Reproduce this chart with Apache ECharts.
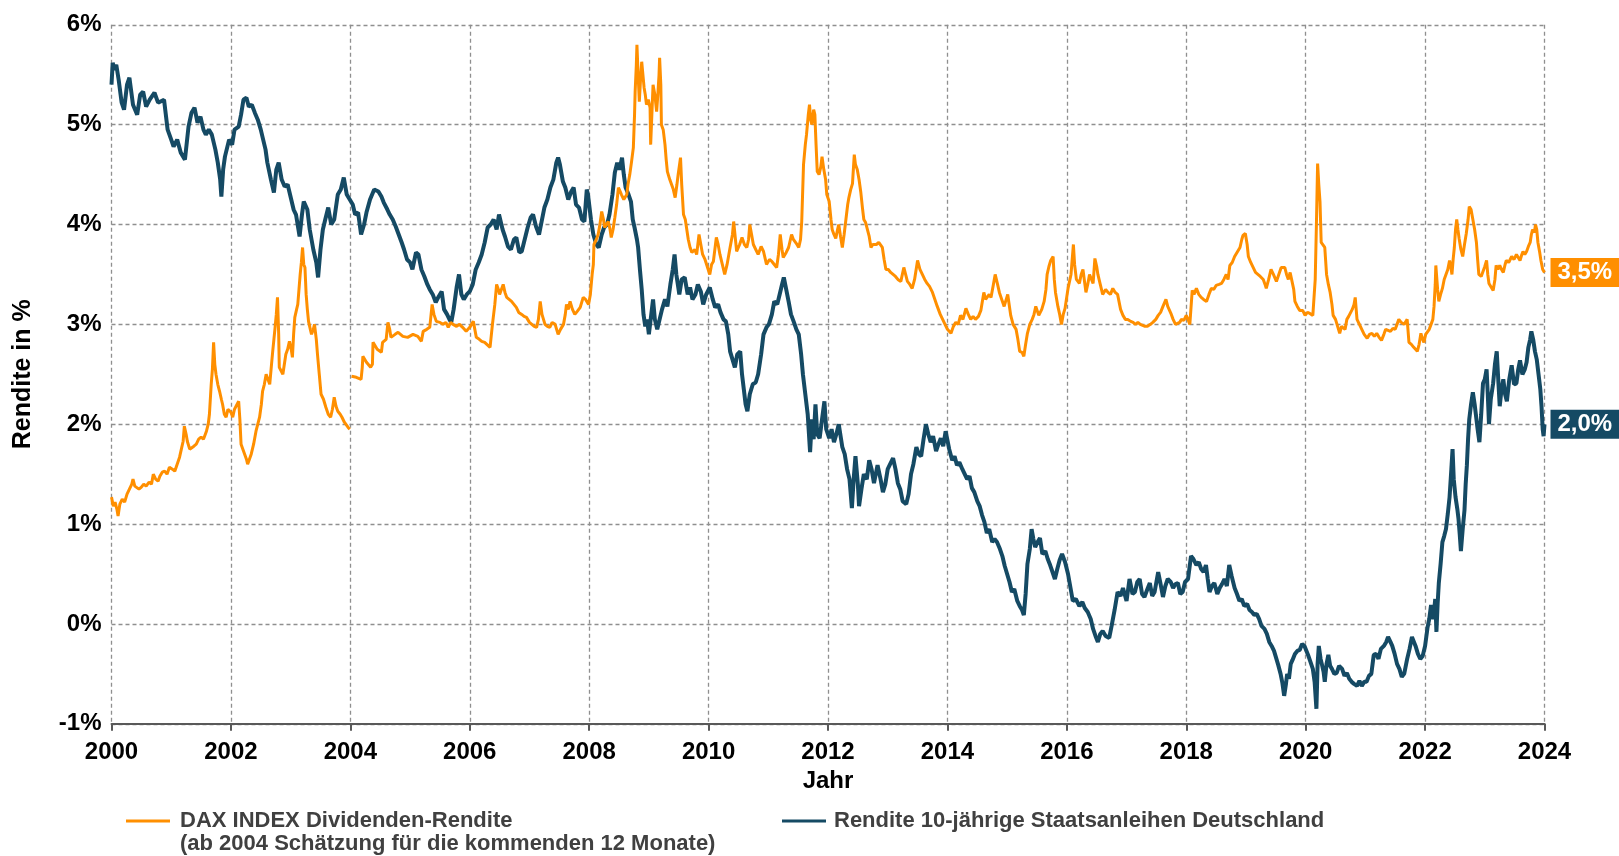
<!DOCTYPE html>
<html>
<head>
<meta charset="utf-8">
<title>DAX Dividenden-Rendite vs. Bundrendite</title>
<script src="https://cdn.jsdelivr.net/npm/echarts@6/dist/echarts.min.js"></script>
<style>
  html, body { margin: 0; padding: 0; background: #fff; }
  #chart { width: 1619px; height: 856px; }
</style>
</head>
<body>
<div id="chart"></div>
<script>
// Rendite 10-jährige Staatsanleihen Deutschland, [Jahr, %]
const bundYield = [
  [2000.00,5.40],[2000.02,5.62],[2000.05,5.55],[2000.08,5.60],[2000.12,5.45],[2000.17,5.22],[2000.21,5.15],[2000.26,5.40],
  [2000.30,5.47],[2000.36,5.20],[2000.43,5.10],[2000.48,5.30],[2000.53,5.33],[2000.58,5.18],[2000.64,5.25],[2000.72,5.32],
  [2000.78,5.22],[2000.88,5.25],[2000.94,4.95],[2001.00,4.85],[2001.04,4.78],[2001.10,4.85],[2001.16,4.72],[2001.23,4.65],
  [2001.29,4.98],[2001.34,5.12],[2001.39,5.17],[2001.44,5.02],[2001.49,5.08],[2001.54,4.95],[2001.58,4.90],[2001.63,4.95],
  [2001.68,4.90],[2001.74,4.75],[2001.78,4.62],[2001.82,4.45],[2001.84,4.28],[2001.87,4.55],[2001.90,4.68],[2001.97,4.85],
  [2002.02,4.80],[2002.06,4.95],[2002.13,4.98],[2002.17,5.10],[2002.21,5.25],[2002.26,5.27],[2002.30,5.18],[2002.35,5.20],
  [2002.40,5.12],[2002.45,5.05],[2002.50,4.95],[2002.54,4.85],[2002.58,4.75],[2002.61,4.62],[2002.67,4.45],[2002.72,4.32],
  [2002.76,4.55],[2002.80,4.62],[2002.85,4.45],[2002.90,4.38],[2002.95,4.40],[2002.99,4.30],[2003.05,4.15],[2003.09,4.10],
  [2003.15,3.88],[2003.19,4.10],[2003.22,4.23],[2003.28,4.15],[2003.32,3.95],[2003.38,3.75],[2003.43,3.62],[2003.46,3.47],
  [2003.50,3.75],[2003.54,3.95],[2003.58,4.05],[2003.63,4.17],[2003.68,4.00],[2003.73,4.05],[2003.79,4.30],[2003.84,4.35],
  [2003.89,4.47],[2003.94,4.30],[2003.99,4.25],[2004.04,4.20],[2004.08,4.10],[2004.13,4.12],[2004.18,3.90],[2004.23,4.00],
  [2004.27,4.12],[2004.33,4.25],[2004.40,4.35],[2004.47,4.33],[2004.52,4.28],[2004.56,4.22],[2004.62,4.15],[2004.66,4.10],
  [2004.71,4.05],[2004.76,3.98],[2004.81,3.90],[2004.86,3.82],[2004.90,3.75],[2004.95,3.65],[2005.00,3.62],[2005.04,3.55],
  [2005.10,3.72],[2005.14,3.70],[2005.19,3.55],[2005.24,3.48],[2005.29,3.40],[2005.33,3.35],[2005.38,3.30],[2005.43,3.22],
  [2005.48,3.28],[2005.53,3.33],[2005.57,3.15],[2005.62,3.10],[2005.66,3.05],[2005.69,3.02],[2005.73,3.15],[2005.78,3.37],
  [2005.82,3.50],[2005.86,3.30],[2005.90,3.25],[2005.95,3.30],[2006.00,3.33],[2006.05,3.40],[2006.10,3.55],[2006.15,3.62],
  [2006.20,3.70],[2006.25,3.82],[2006.30,3.97],[2006.35,4.00],[2006.40,4.05],[2006.45,3.95],[2006.49,4.10],[2006.55,3.95],
  [2006.59,3.88],[2006.64,3.78],[2006.69,3.75],[2006.74,3.85],[2006.78,3.87],[2006.83,3.72],[2006.87,3.73],[2006.92,3.85],
  [2006.97,3.97],[2007.02,4.07],[2007.06,4.10],[2007.11,3.98],[2007.16,3.90],[2007.21,4.05],[2007.25,4.17],[2007.30,4.25],
  [2007.35,4.37],[2007.40,4.45],[2007.45,4.62],[2007.48,4.67],[2007.51,4.60],[2007.56,4.43],[2007.60,4.37],[2007.65,4.25],
  [2007.70,4.33],[2007.74,4.37],[2007.78,4.20],[2007.83,4.17],[2007.88,4.05],[2007.92,4.03],[2007.96,4.35],[2007.98,4.30],
  [2008.03,4.05],[2008.07,3.90],[2008.12,3.80],[2008.16,3.77],[2008.21,3.90],[2008.25,3.97],[2008.30,4.00],[2008.34,4.10],
  [2008.39,4.30],[2008.43,4.52],[2008.47,4.62],[2008.51,4.55],[2008.55,4.67],[2008.58,4.50],[2008.61,4.37],[2008.66,4.30],
  [2008.70,4.23],[2008.73,4.05],[2008.76,3.97],[2008.80,3.85],[2008.82,3.77],[2008.85,3.55],[2008.88,3.35],[2008.91,3.10],
  [2008.94,2.98],[2008.97,3.05],[2009.00,2.90],[2009.04,3.10],[2009.07,3.25],[2009.10,3.05],[2009.14,2.95],[2009.18,3.05],
  [2009.22,3.15],[2009.27,3.25],[2009.31,3.18],[2009.36,3.40],[2009.40,3.55],[2009.43,3.70],[2009.46,3.50],[2009.51,3.30],
  [2009.55,3.45],[2009.60,3.47],[2009.65,3.30],[2009.69,3.37],[2009.73,3.25],[2009.78,3.30],[2009.82,3.40],[2009.87,3.33],
  [2009.91,3.20],[2009.96,3.30],[2010.02,3.37],[2010.07,3.25],[2010.11,3.17],[2010.16,3.20],[2010.20,3.12],[2010.25,3.05],
  [2010.29,3.03],[2010.33,2.90],[2010.36,2.73],[2010.40,2.65],[2010.44,2.57],[2010.48,2.70],[2010.53,2.73],[2010.56,2.50],
  [2010.59,2.35],[2010.62,2.20],[2010.65,2.13],[2010.69,2.30],[2010.74,2.40],[2010.79,2.42],[2010.83,2.50],[2010.88,2.70],
  [2010.92,2.90],[2010.97,2.97],[2011.01,3.00],[2011.06,3.10],[2011.10,3.23],[2011.15,3.20],[2011.19,3.30],[2011.23,3.40],
  [2011.26,3.47],[2011.30,3.35],[2011.34,3.23],[2011.38,3.10],[2011.43,3.02],[2011.47,2.95],[2011.51,2.90],[2011.55,2.70],
  [2011.58,2.50],[2011.62,2.30],[2011.66,2.10],[2011.70,1.72],[2011.73,2.05],[2011.76,1.85],[2011.79,2.20],[2011.82,1.90],
  [2011.86,1.86],[2011.90,2.05],[2011.94,2.23],[2011.97,1.95],[2012.02,1.86],[2012.06,1.95],[2012.10,1.82],[2012.14,1.90],
  [2012.18,2.00],[2012.24,1.77],[2012.28,1.70],[2012.32,1.55],[2012.36,1.45],[2012.40,1.16],[2012.43,1.45],[2012.46,1.68],
  [2012.50,1.40],[2012.52,1.18],[2012.56,1.35],[2012.60,1.50],[2012.65,1.45],[2012.69,1.64],[2012.73,1.55],[2012.77,1.41],
  [2012.80,1.50],[2012.83,1.59],[2012.88,1.45],[2012.92,1.32],[2012.96,1.40],[2013.00,1.55],[2013.04,1.60],[2013.09,1.66],
  [2013.13,1.55],[2013.17,1.41],[2013.21,1.35],[2013.25,1.23],[2013.31,1.20],[2013.35,1.30],[2013.39,1.50],[2013.43,1.60],
  [2013.48,1.77],[2013.52,1.70],[2013.56,1.68],[2013.60,1.85],[2013.64,2.00],[2013.68,1.90],[2013.72,1.82],[2013.76,1.88],
  [2013.81,1.73],[2013.85,1.80],[2013.89,1.86],[2013.93,1.78],[2013.97,1.93],[2014.03,1.75],[2014.08,1.64],[2014.12,1.68],
  [2014.16,1.59],[2014.20,1.62],[2014.25,1.55],[2014.29,1.50],[2014.33,1.45],[2014.37,1.48],[2014.41,1.36],[2014.45,1.32],
  [2014.50,1.23],[2014.54,1.18],[2014.58,1.09],[2014.62,1.02],[2014.66,0.91],[2014.70,0.95],[2014.75,0.82],[2014.79,0.85],
  [2014.83,0.82],[2014.88,0.75],[2014.92,0.68],[2014.96,0.58],[2015.00,0.50],[2015.04,0.42],[2015.08,0.32],[2015.12,0.35],
  [2015.17,0.23],[2015.21,0.18],[2015.25,0.14],[2015.28,0.09],[2015.31,0.30],[2015.34,0.60],[2015.38,0.75],[2015.41,0.95],
  [2015.44,0.85],[2015.47,0.77],[2015.51,0.82],[2015.55,0.86],[2015.59,0.70],[2015.64,0.73],[2015.68,0.65],[2015.72,0.59],
  [2015.76,0.52],[2015.80,0.45],[2015.84,0.55],[2015.88,0.64],[2015.92,0.70],[2015.97,0.62],[2016.02,0.50],[2016.05,0.40],
  [2016.10,0.23],[2016.15,0.25],[2016.21,0.18],[2016.26,0.22],[2016.30,0.16],[2016.35,0.12],[2016.40,0.05],[2016.44,-0.05],
  [2016.48,-0.12],[2016.52,-0.18],[2016.56,-0.10],[2016.60,-0.07],[2016.65,-0.12],[2016.71,-0.14],[2016.75,-0.02],[2016.80,0.14],
  [2016.85,0.32],[2016.90,0.28],[2016.94,0.36],[2017.00,0.23],[2017.05,0.45],[2017.10,0.30],[2017.14,0.32],[2017.18,0.42],
  [2017.22,0.45],[2017.26,0.30],[2017.30,0.27],[2017.35,0.35],[2017.39,0.41],[2017.43,0.28],[2017.47,0.32],[2017.53,0.52],
  [2017.57,0.40],[2017.61,0.27],[2017.65,0.38],[2017.69,0.45],[2017.74,0.42],[2017.78,0.36],[2017.82,0.40],[2017.86,0.41],
  [2017.90,0.30],[2017.94,0.32],[2017.98,0.42],[2018.03,0.45],[2018.08,0.68],[2018.12,0.65],[2018.17,0.59],[2018.21,0.62],
  [2018.25,0.55],[2018.29,0.52],[2018.33,0.59],[2018.36,0.45],[2018.39,0.32],[2018.43,0.38],[2018.47,0.41],[2018.52,0.30],
  [2018.56,0.36],[2018.60,0.40],[2018.64,0.45],[2018.68,0.38],[2018.72,0.59],[2018.76,0.48],[2018.81,0.36],[2018.85,0.30],
  [2018.89,0.23],[2018.93,0.25],[2018.97,0.18],[2019.02,0.20],[2019.06,0.14],[2019.10,0.12],[2019.14,0.09],[2019.18,0.10],
  [2019.22,0.05],[2019.26,-0.02],[2019.31,-0.05],[2019.35,-0.10],[2019.39,-0.18],[2019.43,-0.22],[2019.47,-0.27],[2019.51,-0.35],
  [2019.54,-0.41],[2019.58,-0.50],[2019.61,-0.59],[2019.64,-0.72],[2019.67,-0.60],[2019.69,-0.50],[2019.72,-0.55],[2019.75,-0.40],
  [2019.78,-0.36],[2019.82,-0.30],[2019.86,-0.27],[2019.90,-0.26],[2019.94,-0.20],[2019.98,-0.22],[2020.04,-0.31],[2020.08,-0.38],
  [2020.12,-0.45],[2020.15,-0.58],[2020.18,-0.85],[2020.20,-0.40],[2020.22,-0.22],[2020.25,-0.35],[2020.27,-0.40],[2020.30,-0.48],
  [2020.32,-0.58],[2020.35,-0.40],[2020.38,-0.31],[2020.41,-0.42],[2020.44,-0.45],[2020.48,-0.50],[2020.52,-0.49],[2020.56,-0.42],
  [2020.61,-0.45],[2020.65,-0.52],[2020.69,-0.49],[2020.73,-0.55],[2020.77,-0.58],[2020.81,-0.60],[2020.86,-0.62],[2020.90,-0.57],
  [2020.94,-0.62],[2020.98,-0.58],[2021.02,-0.58],[2021.06,-0.52],[2021.10,-0.50],[2021.14,-0.31],[2021.18,-0.30],[2021.22,-0.35],
  [2021.26,-0.25],[2021.31,-0.22],[2021.35,-0.18],[2021.38,-0.13],[2021.42,-0.18],[2021.45,-0.22],[2021.49,-0.30],[2021.53,-0.40],
  [2021.57,-0.45],[2021.61,-0.53],[2021.65,-0.50],[2021.70,-0.35],[2021.74,-0.25],[2021.78,-0.13],[2021.81,-0.15],[2021.84,-0.22],
  [2021.88,-0.30],[2021.92,-0.35],[2021.96,-0.32],[2022.00,-0.22],[2022.04,-0.04],[2022.07,0.05],[2022.10,0.19],[2022.12,0.10],
  [2022.14,0.05],[2022.17,0.25],[2022.19,-0.08],[2022.21,0.20],[2022.23,0.41],[2022.26,0.60],[2022.29,0.82],[2022.32,0.88],
  [2022.35,0.95],[2022.38,1.10],[2022.41,1.27],[2022.44,1.55],[2022.46,1.75],[2022.48,1.45],[2022.51,1.27],[2022.54,1.15],
  [2022.56,1.05],[2022.58,0.90],[2022.60,0.73],[2022.63,0.95],[2022.66,1.14],[2022.68,1.40],[2022.70,1.59],[2022.72,1.85],
  [2022.74,2.05],[2022.77,2.20],[2022.80,2.32],[2022.83,2.20],[2022.85,2.10],[2022.88,1.95],[2022.91,1.82],[2022.94,2.10],
  [2022.97,2.41],[2023.00,2.45],[2023.03,2.55],[2023.05,2.30],[2023.07,2.00],[2023.10,2.25],[2023.14,2.41],[2023.17,2.60],
  [2023.20,2.73],[2023.23,2.40],[2023.25,2.18],[2023.28,2.35],[2023.31,2.45],[2023.34,2.30],[2023.37,2.23],[2023.41,2.45],
  [2023.45,2.59],[2023.49,2.40],[2023.53,2.41],[2023.56,2.55],[2023.59,2.64],[2023.63,2.50],[2023.67,2.55],[2023.70,2.62],
  [2023.73,2.77],[2023.76,2.85],[2023.78,2.93],[2023.81,2.85],[2023.84,2.73],[2023.87,2.65],[2023.90,2.50],[2023.93,2.35],
  [2023.95,2.18],[2023.97,1.95],[2023.985,1.88],[2024.00,2.00]
];

// DAX Dividenden-Rendite bis Ende 2003 (historisch)
const daxYieldTo2003 = [
  [2000.00,1.27],[2000.03,1.18],[2000.06,1.22],[2000.09,1.15],[2000.11,1.08],[2000.14,1.20],[2000.18,1.25],[2000.22,1.22],
  [2000.26,1.30],[2000.30,1.35],[2000.34,1.40],[2000.36,1.45],[2000.39,1.38],[2000.42,1.40],[2000.46,1.35],[2000.50,1.37],
  [2000.54,1.40],[2000.58,1.38],[2000.63,1.42],[2000.67,1.40],[2000.70,1.50],[2000.74,1.45],[2000.78,1.43],[2000.81,1.48],
  [2000.85,1.52],[2000.89,1.53],[2000.93,1.50],[2000.97,1.57],[2001.02,1.55],[2001.06,1.53],[2001.10,1.60],[2001.14,1.67],
  [2001.17,1.75],[2001.20,1.83],[2001.22,1.98],[2001.25,1.90],[2001.27,1.83],[2001.31,1.75],[2001.34,1.73],[2001.38,1.78],
  [2001.42,1.80],[2001.46,1.85],[2001.50,1.87],[2001.54,1.85],[2001.59,1.93],[2001.62,2.00],[2001.64,2.10],[2001.67,2.40],
  [2001.69,2.55],[2001.71,2.82],[2001.73,2.60],[2001.75,2.50],[2001.78,2.40],[2001.81,2.33],[2001.84,2.25],[2001.86,2.20],
  [2001.89,2.10],[2001.92,2.07],[2001.95,2.15],[2001.97,2.17],[2002.00,2.12],[2002.03,2.07],[2002.06,2.15],[2002.09,2.17],
  [2002.13,2.23],[2002.15,2.05],[2002.17,1.80],[2002.20,1.75],[2002.23,1.73],[2002.26,1.65],[2002.28,1.60],[2002.31,1.65],
  [2002.34,1.70],[2002.38,1.80],[2002.42,1.93],[2002.45,2.00],[2002.48,2.07],[2002.51,2.20],[2002.53,2.33],[2002.56,2.40],
  [2002.59,2.50],[2002.62,2.45],[2002.65,2.40],[2002.68,2.60],[2002.70,2.73],[2002.72,2.85],[2002.74,2.97],[2002.76,3.10],
  [2002.78,3.27],[2002.80,2.90],[2002.81,2.57],[2002.84,2.55],[2002.87,2.50],[2002.90,2.62],[2002.92,2.70],[2002.95,2.75],
  [2002.98,2.83],[2003.01,2.75],[2003.03,2.67],[2003.05,2.90],[2003.07,3.07],[2003.10,3.15],[2003.12,3.20],[2003.14,3.35],
  [2003.16,3.50],[2003.18,3.62],[2003.20,3.77],[2003.22,3.60],[2003.24,3.57],[2003.26,3.30],[2003.28,3.15],[2003.30,3.03],
  [2003.33,2.95],[2003.35,2.90],[2003.38,2.95],[2003.40,3.00],[2003.43,2.85],[2003.45,2.70],[2003.48,2.50],[2003.51,2.30],
  [2003.55,2.25],[2003.59,2.17],[2003.63,2.10],[2003.67,2.07],[2003.70,2.15],[2003.73,2.27],[2003.76,2.18],[2003.79,2.13],
  [2003.83,2.10],[2003.86,2.07],[2003.90,2.02],[2003.93,2.00],[2003.96,1.97],[2003.99,1.95]
];

// DAX Dividenden-Rendite ab 2004 (Schätzung kommende 12 Monate)
const daxYieldFrom2004 = [
  [2004.02,2.48],[2004.10,2.47],[2004.18,2.45],[2004.20,2.57],[2004.21,2.68],[2004.27,2.62],[2004.34,2.57],[2004.37,2.60],
  [2004.38,2.82],[2004.45,2.75],[2004.52,2.72],[2004.54,2.82],[2004.60,2.85],[2004.63,3.02],[2004.66,2.95],[2004.68,2.87],
  [2004.75,2.90],[2004.80,2.92],[2004.88,2.88],[2004.96,2.87],[2005.05,2.90],[2005.13,2.88],[2005.19,2.83],[2005.22,2.93],
  [2005.28,2.95],[2005.33,2.97],[2005.37,3.20],[2005.40,3.10],[2005.44,3.03],[2005.50,3.02],[2005.55,3.00],[2005.60,3.02],
  [2005.64,2.97],[2005.68,3.02],[2005.72,3.00],[2005.78,2.98],[2005.83,3.00],[2005.88,2.97],[2005.94,2.93],[2006.00,2.97],
  [2006.06,3.03],[2006.11,2.87],[2006.16,2.85],[2006.20,2.83],[2006.25,2.82],[2006.28,2.80],[2006.34,2.77],[2006.38,3.00],
  [2006.42,3.20],[2006.45,3.40],[2006.48,3.35],[2006.50,3.30],[2006.53,3.35],[2006.56,3.40],[2006.59,3.32],[2006.62,3.27],
  [2006.66,3.25],[2006.70,3.23],[2006.74,3.20],[2006.78,3.17],[2006.82,3.12],[2006.87,3.10],[2006.91,3.08],[2006.95,3.07],
  [2007.00,3.02],[2007.04,3.00],[2007.08,2.98],[2007.12,2.97],[2007.15,3.05],[2007.18,3.23],[2007.21,3.10],[2007.26,3.00],
  [2007.30,2.98],[2007.34,2.97],[2007.38,3.02],[2007.43,3.00],[2007.48,2.90],[2007.52,2.95],[2007.57,3.00],[2007.60,3.10],
  [2007.62,3.20],[2007.65,3.15],[2007.68,3.23],[2007.72,3.15],[2007.76,3.10],[2007.80,3.13],[2007.85,3.17],[2007.90,3.27],
  [2007.94,3.25],[2007.99,3.20],[2008.02,3.30],[2008.05,3.50],[2008.07,3.60],[2008.08,3.80],[2008.12,3.85],[2008.15,3.90],
  [2008.18,4.00],[2008.21,4.13],[2008.24,4.05],[2008.26,3.97],[2008.29,4.00],[2008.32,4.03],[2008.35,3.95],[2008.37,3.87],
  [2008.40,3.95],[2008.43,4.07],[2008.46,4.20],[2008.49,4.37],[2008.52,4.33],[2008.54,4.30],[2008.58,4.25],[2008.60,4.23],
  [2008.63,4.30],[2008.65,4.40],[2008.68,4.50],[2008.71,4.63],[2008.74,4.77],[2008.76,5.10],[2008.77,5.33],[2008.79,5.60],
  [2008.80,5.80],[2008.82,5.50],[2008.84,5.23],[2008.86,5.45],[2008.88,5.63],[2008.90,5.50],[2008.92,5.37],[2008.94,5.30],
  [2008.96,5.20],[2008.99,5.25],[2009.02,5.17],[2009.03,4.80],[2009.05,5.10],[2009.07,5.40],[2009.10,5.30],[2009.13,5.13],
  [2009.15,5.30],[2009.17,5.50],[2009.18,5.67],[2009.20,5.40],[2009.21,5.00],[2009.24,4.95],[2009.27,4.80],[2009.29,4.65],
  [2009.31,4.53],[2009.35,4.45],[2009.38,4.40],[2009.41,4.35],[2009.44,4.27],[2009.47,4.40],[2009.49,4.50],[2009.53,4.67],
  [2009.55,4.40],[2009.58,4.10],[2009.61,4.05],[2009.63,3.97],[2009.66,3.85],[2009.69,3.77],[2009.72,3.72],[2009.74,3.70],
  [2009.77,3.75],[2009.80,3.70],[2009.84,3.90],[2009.87,3.80],[2009.90,3.70],[2009.94,3.65],[2009.97,3.63],[2010.02,3.50],
  [2010.05,3.60],[2010.08,3.63],[2010.13,3.87],[2010.16,3.80],[2010.19,3.70],[2010.23,3.60],[2010.27,3.50],[2010.31,3.60],
  [2010.36,3.77],[2010.40,3.90],[2010.42,4.03],[2010.45,3.85],[2010.47,3.73],[2010.52,3.80],[2010.56,3.87],[2010.60,3.80],
  [2010.64,3.77],[2010.67,3.85],[2010.69,4.00],[2010.72,3.90],[2010.75,3.80],[2010.79,3.75],[2010.83,3.70],[2010.88,3.78],
  [2010.92,3.73],[2010.97,3.60],[2011.02,3.65],[2011.06,3.63],[2011.10,3.60],[2011.14,3.57],[2011.17,3.70],[2011.20,3.90],
  [2011.23,3.75],[2011.25,3.67],[2011.30,3.72],[2011.34,3.77],[2011.39,3.90],[2011.42,3.85],[2011.45,3.83],[2011.48,3.80],
  [2011.51,3.77],[2011.54,3.85],[2011.56,4.03],[2011.59,4.60],[2011.62,4.80],[2011.64,4.90],[2011.67,5.10],[2011.69,5.20],
  [2011.71,5.05],[2011.73,5.00],[2011.76,5.15],[2011.78,5.10],[2011.80,4.80],[2011.82,4.53],[2011.85,4.50],[2011.88,4.58],
  [2011.90,4.68],[2011.93,4.55],[2011.96,4.45],[2011.98,4.30],[2012.02,4.23],[2012.05,4.05],[2012.07,3.95],[2012.10,3.90],
  [2012.13,3.86],[2012.16,3.95],[2012.18,4.00],[2012.21,3.88],[2012.24,3.77],[2012.27,3.90],[2012.30,4.05],[2012.33,4.20],
  [2012.35,4.27],[2012.38,4.35],[2012.41,4.41],[2012.44,4.70],[2012.46,4.60],[2012.49,4.55],[2012.52,4.45],[2012.55,4.32],
  [2012.58,4.15],[2012.60,4.05],[2012.63,4.02],[2012.66,4.00],[2012.69,3.88],[2012.72,3.77],[2012.75,3.80],[2012.77,3.82],
  [2012.81,3.80],[2012.85,3.82],[2012.88,3.80],[2012.91,3.77],[2012.94,3.65],[2012.97,3.55],[2013.01,3.55],[2013.05,3.52],
  [2013.09,3.50],[2013.13,3.48],[2013.17,3.45],[2013.22,3.43],[2013.27,3.57],[2013.30,3.50],[2013.33,3.43],[2013.37,3.40],
  [2013.41,3.36],[2013.45,3.45],[2013.50,3.64],[2013.54,3.55],[2013.58,3.50],[2013.62,3.45],[2013.66,3.41],[2013.70,3.38],
  [2013.75,3.32],[2013.79,3.25],[2013.83,3.18],[2013.88,3.10],[2013.92,3.05],[2013.96,3.00],[2014.00,2.95],[2014.06,2.91],
  [2014.10,2.98],[2014.14,3.02],[2014.18,3.00],[2014.22,3.09],[2014.26,3.05],[2014.31,3.16],[2014.35,3.10],[2014.39,3.05],
  [2014.43,3.08],[2014.47,3.05],[2014.52,3.08],[2014.56,3.14],[2014.61,3.32],[2014.64,3.25],[2014.67,3.23],[2014.70,3.30],
  [2014.73,3.27],[2014.77,3.40],[2014.80,3.50],[2014.84,3.40],[2014.87,3.32],[2014.91,3.25],[2014.95,3.18],[2015.01,3.30],
  [2015.06,3.09],[2015.10,3.00],[2015.15,2.95],[2015.18,2.85],[2015.21,2.73],[2015.25,2.72],[2015.28,2.68],[2015.31,2.80],
  [2015.34,2.91],[2015.38,3.00],[2015.42,3.05],[2015.45,3.10],[2015.48,3.18],[2015.53,3.09],[2015.58,3.15],[2015.62,3.23],
  [2015.65,3.35],[2015.67,3.50],[2015.70,3.58],[2015.73,3.64],[2015.77,3.68],[2015.79,3.45],[2015.81,3.32],[2015.85,3.18],
  [2015.88,3.10],[2015.91,3.00],[2015.94,3.10],[2015.97,3.16],[2016.02,3.36],[2016.07,3.50],[2016.11,3.80],[2016.13,3.60],
  [2016.16,3.45],[2016.21,3.41],[2016.24,3.50],[2016.27,3.55],[2016.32,3.32],[2016.35,3.40],[2016.38,3.50],[2016.44,3.41],
  [2016.47,3.66],[2016.50,3.58],[2016.52,3.50],[2016.56,3.40],[2016.60,3.30],[2016.65,3.35],[2016.69,3.32],[2016.73,3.30],
  [2016.77,3.36],[2016.81,3.32],[2016.85,3.30],[2016.90,3.15],[2016.94,3.09],[2016.98,3.05],[2017.02,3.05],[2017.07,3.03],
  [2017.11,3.02],[2017.15,3.00],[2017.19,3.02],[2017.23,3.00],[2017.26,3.00],[2017.31,2.98],[2017.35,2.98],[2017.40,3.00],
  [2017.44,3.02],[2017.49,3.05],[2017.53,3.09],[2017.57,3.12],[2017.61,3.18],[2017.66,3.25],[2017.69,3.18],[2017.72,3.14],
  [2017.75,3.10],[2017.78,3.05],[2017.82,3.00],[2017.85,2.98],[2017.89,3.02],[2017.92,3.05],[2017.96,3.04],[2018.00,3.09],
  [2018.03,3.05],[2018.06,3.00],[2018.10,3.34],[2018.13,3.30],[2018.17,3.36],[2018.21,3.30],[2018.25,3.27],[2018.29,3.25],
  [2018.34,3.23],[2018.38,3.30],[2018.42,3.36],[2018.46,3.35],[2018.50,3.39],[2018.55,3.40],[2018.59,3.41],[2018.63,3.45],
  [2018.67,3.50],[2018.70,3.45],[2018.73,3.59],[2018.77,3.62],[2018.81,3.68],[2018.85,3.72],[2018.90,3.77],[2018.93,3.85],
  [2018.95,3.89],[2018.99,3.91],[2019.02,3.80],[2019.04,3.68],[2019.08,3.62],[2019.12,3.57],[2019.16,3.52],[2019.20,3.50],
  [2019.24,3.48],[2019.29,3.45],[2019.32,3.40],[2019.34,3.36],[2019.38,3.45],[2019.42,3.55],[2019.46,3.50],[2019.51,3.43],
  [2019.55,3.50],[2019.59,3.57],[2019.62,3.55],[2019.65,3.57],[2019.68,3.50],[2019.71,3.45],[2019.74,3.52],[2019.76,3.50],
  [2019.80,3.35],[2019.82,3.23],[2019.86,3.18],[2019.90,3.14],[2019.95,3.14],[2019.99,3.09],[2020.03,3.12],[2020.07,3.11],
  [2020.12,3.09],[2020.16,3.45],[2020.18,4.00],[2020.20,4.61],[2020.22,4.40],[2020.24,4.23],[2020.26,3.82],[2020.29,3.80],
  [2020.32,3.77],[2020.35,3.50],[2020.38,3.40],[2020.41,3.32],[2020.44,3.20],[2020.46,3.09],[2020.50,3.05],[2020.52,3.05],
  [2020.55,2.95],[2020.57,2.91],[2020.60,2.98],[2020.63,3.00],[2020.66,2.95],[2020.69,3.05],[2020.72,3.08],[2020.74,3.09],
  [2020.78,3.15],[2020.81,3.20],[2020.83,3.27],[2020.86,3.05],[2020.90,3.00],[2020.94,2.95],[2020.98,2.90],[2021.03,2.86],
  [2021.07,2.90],[2021.11,2.91],[2021.15,2.88],[2021.19,2.91],[2021.23,2.87],[2021.27,2.84],[2021.31,2.90],[2021.34,2.95],
  [2021.38,2.94],[2021.42,2.93],[2021.46,2.96],[2021.50,2.95],[2021.53,3.00],[2021.56,3.05],[2021.60,3.02],[2021.65,3.00],
  [2021.70,3.05],[2021.73,2.82],[2021.77,2.80],[2021.81,2.77],[2021.84,2.75],[2021.87,2.73],[2021.90,2.80],[2021.93,2.91],
  [2021.96,2.85],[2021.98,2.82],[2022.01,2.90],[2022.04,2.91],[2022.07,2.95],[2022.10,3.00],[2022.13,3.05],[2022.15,3.18],
  [2022.17,3.40],[2022.18,3.59],[2022.21,3.35],[2022.23,3.23],[2022.26,3.30],[2022.29,3.36],[2022.32,3.45],[2022.35,3.50],
  [2022.38,3.55],[2022.41,3.64],[2022.43,3.58],[2022.45,3.50],[2022.47,3.65],[2022.49,3.77],[2022.51,3.95],[2022.53,4.05],
  [2022.55,3.95],[2022.57,3.86],[2022.60,3.75],[2022.63,3.68],[2022.66,3.80],[2022.69,3.91],[2022.72,4.05],[2022.74,4.18],
  [2022.77,4.15],[2022.80,4.14],[2022.83,3.95],[2022.86,3.82],[2022.88,3.65],[2022.90,3.50],[2022.94,3.48],[2022.97,3.50],
  [2023.00,3.58],[2023.03,3.64],[2023.05,3.50],[2023.07,3.41],[2023.10,3.38],[2023.14,3.34],[2023.17,3.45],[2023.19,3.59],
  [2023.22,3.55],[2023.25,3.59],[2023.28,3.55],[2023.31,3.52],[2023.34,3.60],[2023.36,3.64],[2023.40,3.62],[2023.45,3.68],
  [2023.49,3.65],[2023.53,3.70],[2023.56,3.68],[2023.59,3.64],[2023.62,3.70],[2023.64,3.73],[2023.67,3.70],[2023.70,3.73],
  [2023.73,3.78],[2023.76,3.82],[2023.78,3.90],[2023.80,3.95],[2023.83,3.92],[2023.85,4.00],[2023.87,3.95],[2023.89,3.82],
  [2023.92,3.72],[2023.94,3.64],[2023.97,3.55],[2024.00,3.52]
];

const seriesNames = [
  "DAX INDEX Dividenden-Rendite",
  "Rendite 10-jährige Staatsanleihen Deutschland"
];
const daxNote = "(ab 2004 Schätzung für die kommenden 12 Monate)";

const ORANGE = "#FF8F00";
const BLUE = "#154A64";
const FONT = '"Liberation Sans", Arial, sans-serif';

// Lücke zwischen den beiden DAX-Abschnitten
const daxData = daxYieldTo2003.concat([[2004.0, "-"]], daxYieldFrom2004);

const fmtPct = (v) => v.toFixed(1).replace(".", ",") + "%";

const gridDash = { color: "#8f8f8f", width: 1.3, type: [4, 3] };

const chart = echarts.init(document.getElementById("chart"));

chart.setOption({
  animation: false,
  backgroundColor: "#fff",
  textStyle: { fontFamily: FONT },
  grid: {
    left: 111.5,
    right: 74.5,
    top: 24.8,
    bottom: 132.2,
    containLabel: false,
    outerBoundsMode: "none",
  },
  legend: [
    {
      data: [seriesNames[0]],
      left: 126,
      top: 810,
      padding: 0,
      icon: "rect",
      itemWidth: 44,
      itemHeight: 3,
      textStyle: { fontFamily: FONT, fontSize: 22, fontWeight: "bold", color: "#404040", padding: [0, 0, 0, 5] },
    },
    {
      data: [seriesNames[1]],
      left: 782,
      top: 810,
      padding: 0,
      icon: "rect",
      itemWidth: 44,
      itemHeight: 3,
      textStyle: { fontFamily: FONT, fontSize: 22, fontWeight: "bold", color: "#404040", padding: [0, 0, 0, 3] },
    },
  ],
  graphic: [
    {
      type: "text",
      left: 180,
      top: 833,
      style: {
        text: daxNote,
        font: 'bold 22px "Liberation Sans", Arial, sans-serif',
        fill: "#404040",
      },
    },
  ],
  xAxis: {
    type: "value",
    min: 2000,
    max: 2024,
    interval: 2,
    name: "Jahr",
    nameLocation: "middle",
    nameGap: 40,
    nameTextStyle: { fontFamily: FONT, fontSize: 24, fontWeight: "bold", color: "#000" },
    axisLine: { show: true, onZero: false, lineStyle: { color: "#595959", width: 2 } },
    axisTick: { show: true, length: 7, lineStyle: { color: "#595959", width: 2 } },
    axisLabel: {
      margin: 17,
      fontFamily: FONT,
      fontSize: 24,
      fontWeight: "bold",
      color: "#000",
      formatter: (v) => String(v),
    },
    splitLine: { show: true, lineStyle: gridDash },
  },
  yAxis: {
    type: "value",
    min: -1,
    max: 6,
    interval: 1,
    name: "Rendite in %",
    nameLocation: "middle",
    nameRotate: 90,
    nameGap: 76,
    nameTextStyle: { fontFamily: FONT, fontSize: 25, fontWeight: "bold", color: "#000" },
    axisLine: { show: false },
    axisTick: { show: false },
    axisLabel: {
      margin: 10,
      fontFamily: FONT,
      fontSize: 24,
      fontWeight: "bold",
      color: "#000",
      formatter: (v) => v + "%",
    },
    splitLine: { show: true, lineStyle: gridDash },
  },
  series: [
    {
      name: seriesNames[1],
      type: "line",
      data: bundYield,
      showSymbol: false,
      symbol: "none",
      z: 2,
      lineStyle: { color: BLUE, width: 4 },
      itemStyle: { color: BLUE },
      endLabel: {
        show: true,
        formatter: (p) => fmtPct(p.value[1]),
        distance: 6,
        color: "#fff",
        backgroundColor: BLUE,
        fontFamily: FONT,
        fontSize: 24,
        fontWeight: "bold",
        lineHeight: 25,
        padding: [2, 7, 2, 7],
      },
    },
    {
      name: seriesNames[0],
      type: "line",
      data: daxData,
      connectNulls: false,
      showSymbol: false,
      symbol: "none",
      z: 3,
      lineStyle: { color: ORANGE, width: 3 },
      itemStyle: { color: ORANGE },
      endLabel: {
        show: true,
        formatter: (p) => fmtPct(p.value[1]),
        distance: 6,
        color: "#fff",
        backgroundColor: ORANGE,
        fontFamily: FONT,
        fontSize: 24,
        fontWeight: "bold",
        lineHeight: 25,
        padding: [2, 7, 2, 7],
      },
    },
  ],
});
</script>
</body>
</html>
